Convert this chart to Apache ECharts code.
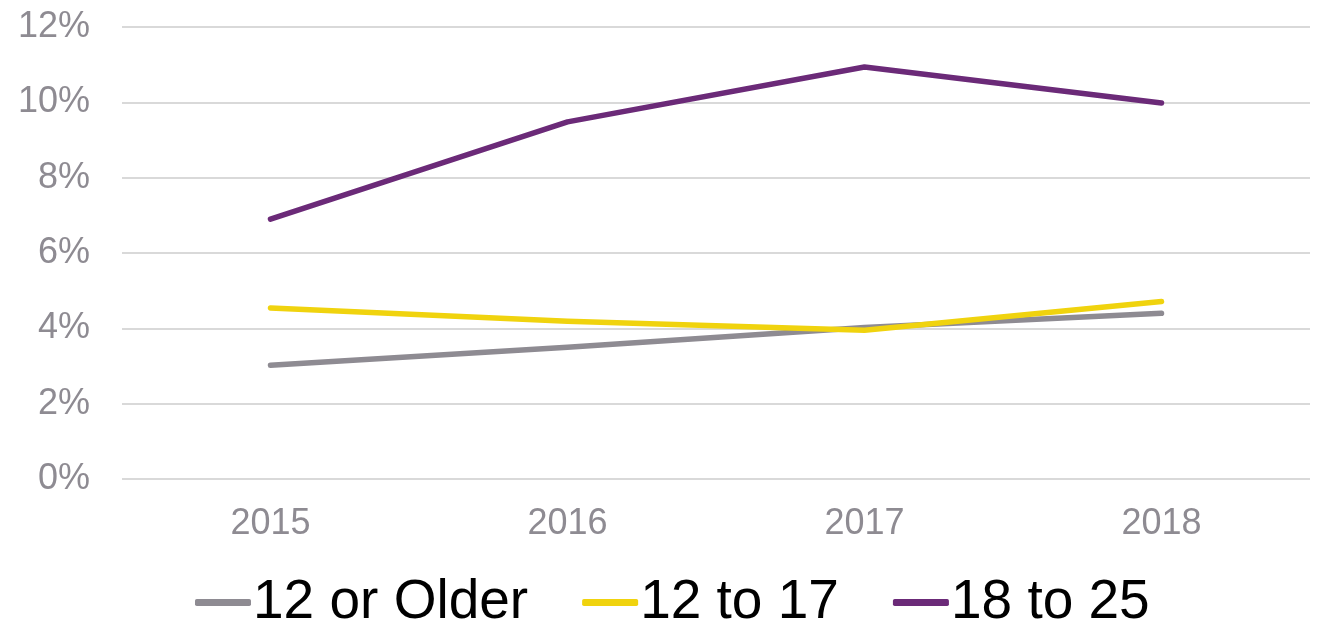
<!DOCTYPE html>
<html>
<head>
<meta charset="utf-8">
<script src="https://cdn.jsdelivr.net/npm/echarts@6/dist/echarts.min.js"></script>
<style>
  html, body { margin: 0; padding: 0; background: #fff; }
  #main { width: 1322px; height: 622px; }
</style>
</head>
<body>
<div id="main"></div>
<script>
// data
const years = ['2015', '2016', '2017', '2018'];
const olderThan12 = [3.02, 3.5, 4.02, 4.4];
const age12to17 = [4.54, 4.19, 3.95, 4.71];
const age18to25 = [6.9, 9.48, 10.94, 9.98];

const gray = '#8e8b92';
const yellow = '#f0d30e';
const purple = '#6b2a78';

let myChart = echarts.init(document.getElementById('main'), null, { renderer: 'canvas' });

const lineSeries = (name, data, color) => ({
  name: name,
  type: 'line',
  data: data,
  symbol: 'none',
  lineStyle: { color: color, width: 5.5, cap: 'round', join: 'round' },
  itemStyle: { color: color }
});

let option = {
  animation: false,
  textStyle: { fontFamily: 'Liberation Sans, Arial, sans-serif' },
  grid: { left: 122, right: 12, top: 27, bottom: 143 },
  legend: {
    top: 570,
    left: 190,
    itemWidth: 56,
    itemHeight: 7,
    itemGap: 54,
    icon: 'roundRect',
    textStyle: { fontSize: 55, color: '#000', padding: [0, 0, 0, -3] },
    data: ['12 or Older', '12 to 17', '18 to 25']
  },
  xAxis: {
    type: 'category',
    data: years,
    boundaryGap: true,
    axisLine: { show: false },
    axisTick: { show: false },
    axisLabel: { color: gray, fontSize: 36, margin: 27 }
  },
  yAxis: {
    type: 'value',
    min: 0,
    max: 12,
    interval: 2,
    axisLine: { show: false },
    axisTick: { show: false },
    axisLabel: { color: gray, fontSize: 36, margin: 32, formatter: '{value}%' },
    splitLine: { lineStyle: { color: '#d9d9d9', width: 2 } }
  },
  series: [
    lineSeries('12 or Older', olderThan12, gray),
    lineSeries('12 to 17', age12to17, yellow),
    lineSeries('18 to 25', age18to25, purple)
  ]
};

myChart.setOption(option);
window.addEventListener('resize', myChart.resize);
</script>
</body>
</html>
